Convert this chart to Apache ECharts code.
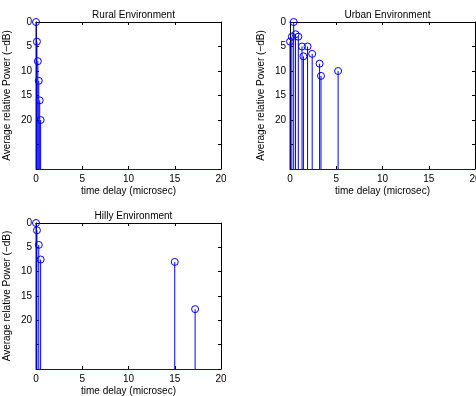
<html>
<head>
<meta charset="utf-8">
<script src="https://cdn.jsdelivr.net/npm/echarts@6/dist/echarts.min.js"></script>
<style>
  html, body { margin: 0; padding: 0; background: #fff; }
  #main { width: 476px; height: 396px; }
</style>
</head>
<body>
<div id="main"></div>
<script>
// delays in microsec, powers in -dB
var ruralDelay = [0, 0.1, 0.2, 0.3, 0.4, 0.5];
var ruralPower = [0, 4, 8, 12, 16, 20];
var urbanDelay = [0, 0.2, 0.4, 0.6, 0.9, 1.3, 1.45, 1.9, 2.4, 3.2, 3.35, 5.2];
var urbanPower = [4, 3, 0, 2.5, 3, 5, 7, 5, 6.5, 8.5, 11, 10];
var hillyDelay = [0, 0.1, 0.3, 0.5, 15, 17.2];
var hillyPower = [0, 1.5, 4.5, 7.5, 8, 17.7];
var titles = ['Rural Environment', 'Urban Environment', 'Hilly Environment'];
var xMax = 20, yMax = 30, tickStep = 5, yLabelMax = 20;

var FONT = '"Liberation Sans", Arial, sans-serif';
var BLUE = '#0000ff';

var grids = [
  { left: 36, top: 22, width: 185, height: 147, outerBoundsMode: 'none' },
  { left: 290, top: 22, width: 185, height: 147, outerBoundsMode: 'none' },
  { left: 36, top: 223, width: 185, height: 146, outerBoundsMode: 'none' }
];

function zip(xs, ys) {
  return xs.map(function (x, i) { return [x, ys[i]]; });
}
var sets = [zip(ruralDelay, ruralPower), zip(urbanDelay, urbanPower), zip(hillyDelay, hillyPower)];

function stemItem(params, api) {
  var tip = api.coord([api.value(0), api.value(1)]);
  var base = api.coord([api.value(0), yMax]);
  return {
    type: 'group',
    children: [
      { type: 'line', shape: { x1: tip[0], y1: tip[1], x2: base[0], y2: base[1] },
        style: { stroke: BLUE, lineWidth: 1 } },
      { type: 'circle', shape: { cx: tip[0], cy: tip[1], r: 3.5 },
        style: { fill: 'none', stroke: BLUE, lineWidth: 1 } }
    ]
  };
}

var xAxes = [], yAxes = [], series = [], titleList = [];
grids.forEach(function (g, i) {
  titleList.push({
    text: titles[i], left: g.left + g.width / 2, top: g.top - 17, textAlign: 'center',
    textStyle: { fontFamily: FONT, fontSize: 10, fontWeight: 'normal', color: '#000' }
  });
  // bottom x axis
  xAxes.push({
    gridIndex: i, type: 'value', min: 0, max: xMax, interval: tickStep, position: 'bottom',
    name: 'time delay (microsec)', nameLocation: 'middle', nameGap: 17, nameMoveOverlap: false,
    nameTextStyle: { fontFamily: FONT, fontSize: 10, color: '#000' },
    axisLine: { onZero: false, lineStyle: { color: BLUE, width: 1 } },
    axisTick: { inside: true, length: 3, lineStyle: { color: '#000' } },
    axisLabel: { margin: 5, fontFamily: FONT, fontSize: 10, color: '#000', hideOverlap: false },
    splitLine: { show: false }
  });
  // top x axis (box + ticks)
  xAxes.push({
    gridIndex: i, type: 'value', min: 0, max: xMax, interval: tickStep, position: 'top',
    axisLine: { onZero: false, lineStyle: { color: '#000', width: 1 } },
    axisTick: { inside: true, length: 3, lineStyle: { color: '#000' } },
    axisLabel: { show: false }, splitLine: { show: false }
  });
  // left y axis
  yAxes.push({
    gridIndex: i, type: 'value', min: 0, max: yMax, interval: tickStep, inverse: true, position: 'left',
    name: 'Average relative Power (\u2212dB)', nameLocation: 'middle', nameGap: 24, nameRotate: 90,
    nameMoveOverlap: false,
    nameTextStyle: { fontFamily: FONT, fontSize: 10, color: '#000' },
    axisLine: { onZero: false, lineStyle: { color: '#000', width: 1 } },
    axisTick: { inside: true, length: 3, lineStyle: { color: '#000' } },
    axisLabel: {
      margin: 4, fontFamily: FONT, fontSize: 10, color: '#000',
      formatter: function (v) { return v <= yLabelMax ? String(v) : ''; }
    },
    splitLine: { show: false }
  });
  // right y axis (box + ticks)
  yAxes.push({
    gridIndex: i, type: 'value', min: 0, max: yMax, interval: tickStep, inverse: true, position: 'right',
    axisLine: { onZero: false, lineStyle: { color: '#000', width: 1 } },
    axisTick: { inside: true, length: 3, lineStyle: { color: '#000' } },
    axisLabel: { show: false }, splitLine: { show: false }
  });
  series.push({
    type: 'custom', xAxisIndex: 2 * i, yAxisIndex: 2 * i,
    renderItem: stemItem, data: sets[i], clip: false, z: 5
  });
});

var chart = echarts.init(document.getElementById('main'));
chart.setOption({
  animation: false,
  backgroundColor: '#fff',
  title: titleList,
  grid: grids,
  xAxis: xAxes,
  yAxis: yAxes,
  series: series
});
</script>
</body>
</html>
